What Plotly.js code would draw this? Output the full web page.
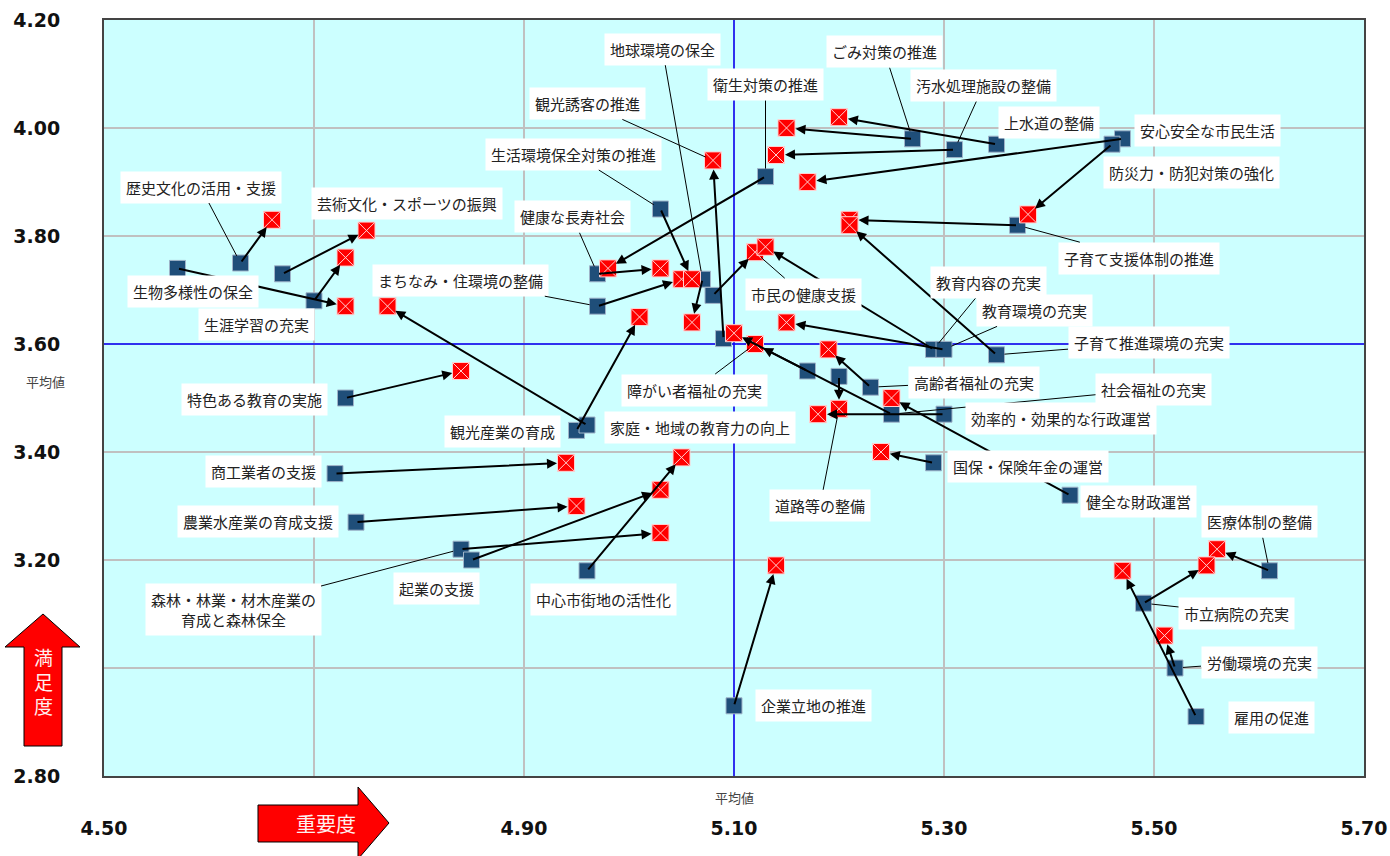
<!DOCTYPE html>
<html><head><meta charset="utf-8">
<script src="https://cdn.plot.ly/plotly-3.0.1.min.js"></script>
<style>html,body{margin:0;padding:0;background:#fff}#chart{width:1390px;height:856px}</style>
</head><body><div id="chart"></div>
<script>
// ---- data ----
const names = [
"歴史文化の活用・支援","芸術文化・スポーツの振興","生物多様性の保全","生涯学習の充実",
"まちなみ・住環境の整備","特色ある教育の実施","商工業者の支援","農業水産業の育成支援",
"森林・林業・材木産業の<br>育成と森林保全","起業の支援","中心市街地の活性化","観光産業の育成",
"家庭・地域の教育力の向上","障がい者福祉の充実","健康な長寿社会","生活環境保全対策の推進",
"観光誘客の推進","地球環境の保全","衛生対策の推進","ごみ対策の推進",
"汚水処理施設の整備","上水道の整備","安心安全な市民生活","防災力・防犯対策の強化",
"子育て支援体制の推進","市民の健康支援","教育内容の充実","教育環境の充実",
"子育て推進環境の充実","高齢者福祉の充実","社会福祉の充実","効率的・効果的な行政運営",
"国保・保険年金の運営","健全な財政運営","道路等の整備","企業立地の推進",
"医療体制の整備","市立病院の充実","労働環境の充実","雇用の促進"];
// previous survey (blue squares): importance, satisfaction
const prevX = [4.63,4.67,4.57,4.70,4.97,4.73,4.72,4.74,4.84,4.85,4.96,4.95,4.96,5.17,4.97,5.03,5.09,5.07,5.13,5.27,5.31,5.35,5.47,5.46,5.37,5.08,5.29,5.30,5.35,5.23,5.25,5.30,5.29,5.42,5.20,5.10,5.61,5.49,5.52,5.54];
const prevY = [3.75,3.73,3.74,3.68,3.67,3.50,3.36,3.27,3.22,3.20,3.18,3.44,3.45,3.55,3.73,3.85,3.61,3.72,3.91,3.98,3.96,3.97,3.98,3.97,3.82,3.69,3.59,3.59,3.58,3.52,3.47,3.47,3.38,3.32,3.54,2.93,3.18,3.12,3.00,2.91];
// current survey (red squares)
const currX = [4.66,4.75,4.73,4.73,5.05,4.84,4.94,4.95,5.03,5.03,5.05,5.01,4.77,5.12,5.03,5.06,5.08,5.06,4.98,5.15,5.14,5.20,5.17,5.38,5.21,5.12,5.13,5.15,5.21,5.19,5.10,5.18,5.24,5.25,5.20,5.14,5.56,5.55,5.51,5.47];
const currY = [3.83,3.81,3.67,3.76,3.72,3.55,3.38,3.30,3.25,3.33,3.39,3.65,3.67,3.60,3.74,3.72,3.94,3.64,3.74,4.00,3.95,4.02,3.90,3.84,3.83,3.77,3.78,3.64,3.82,3.59,3.62,3.47,3.40,3.50,3.48,3.19,3.22,3.19,3.06,3.18];
const avgX = 5.10, avgY = 3.60;
const xRange = [4.5, 5.7], yRange = [2.8, 4.2];
// tick labels (4.70 and 3.00 are hidden behind the axis arrows in the original)
const xTickVals = [4.5,4.7,4.9,5.1,5.3,5.5,5.7];
const xTickText = ['4.50','','4.90','5.10','5.30','5.50','5.70'];
const yTickVals = [2.8,3.0,3.2,3.4,3.6,3.8,4.0,4.2];
const yTickText = ['2.80','','3.20','3.40','3.60','3.80','4.00','4.20'];

// ---- label placement (attach point: 'b' blue / 'r' red / '' no leader; pixel offsets) ----
const labelLayout = [
['b',-40,-76],['',124,-70],['',15,23],['',-58,24],
['b',-137,-26],['',-91,1],['',-72,-2],['',-98,-1],
['b',-228,60],['',-35,28],['',16,29],['',-74,1],
['',113,2],['r',-61,46],['b',-25,-57],['b',-87,-55],
['r',-126,-57],['b',-40,-230],['b',0,-92],['b',-28,-87],
['b',29,-64],['',52,-22],['',85,-8],['',79,28],
['b',121,33],['r',48,42],['b',55,-67],['b',90,-39],
['b',152,-12],['b',103,-5],['b',262,-25],['',117,4],
['',94,4],['',68,6],['r',-19,97],['',79,0],
['b',-10,-49],['b',93,10],['b',84,-6],['',75,1]];

const L = 104, R = 26, T = 20, B = 80, W = 1390, H = 856;
const pw = W - L - R, ph = H - T - B;
const px2x = p => (p - L) / pw;
const py2y = p => (H - B - p) / ph;

const labelFont = {family:'"Noto Sans CJK JP", "Noto Sans", sans-serif', size:15, color:'#222'};

const traces = [
  {x:[avgX,avgX], y:yRange, mode:'lines', line:{color:'#0000ff', width:1.5}, hoverinfo:'skip', showlegend:false},
  {x:xRange, y:[avgY,avgY], mode:'lines', line:{color:'#0000ff', width:1.5}, hoverinfo:'skip', showlegend:false},
  {x:prevX, y:prevY, mode:'markers', type:'scatter', name:'前回', text:names, showlegend:false,
   marker:{symbol:'square', size:16, color:'#1f4e79', line:{color:'#9fb3c8', width:1}}},
  {x:currX, y:currY, mode:'markers', type:'scatter', name:'今回', text:names, showlegend:false,
   marker:{symbol:'square-x', size:17, color:'#ff0000', line:{color:'#ffd0d0', width:1}}}
];

const ann = [];
for (let i = 0; i < names.length; i++) {
  ann.push({x:currX[i], y:currY[i], ax:prevX[i], ay:prevY[i], xref:'x', yref:'y', axref:'x', ayref:'y',
    text:'', showarrow:true, arrowhead:2, arrowsize:1, arrowwidth:2, arrowcolor:'#000', standoff:9, startstandoff:0});
}
for (let i = 0; i < names.length; i++) {
  const [att, dx, dy] = labelLayout[i];
  const ux = att === 'r' ? currX[i] : prevX[i];
  const uy = att === 'r' ? currY[i] : prevY[i];
  if (att) {
    ann.push({x:ux, y:uy, xref:'x', yref:'y', ax:dx, ay:dy, text:names[i], showarrow:true,
      arrowhead:0, arrowwidth:1, arrowcolor:'#000', standoff:8, bgcolor:'#ffffff', borderpad:5, font:labelFont});
  } else {
    ann.push({x:ux, y:uy, xref:'x', yref:'y', xshift:dx, yshift:-dy, text:names[i], showarrow:false,
      xanchor:'center', yanchor:'middle', bgcolor:'#ffffff', borderpad:5, font:labelFont});
  }
}
// average labels
ann.push({x:px2x(45), xref:'paper', y:avgY, yref:'y', yshift:-37, text:'平均値', showarrow:false,
  xanchor:'center', yanchor:'middle', font:{family:'"Noto Sans CJK JP", sans-serif', size:13, color:'#444'}});
ann.push({x:avgX, xref:'x', y:0, yref:'paper', yshift:-21, text:'平均値', showarrow:false,
  xanchor:'center', yanchor:'middle', font:{family:'"Noto Sans CJK JP", sans-serif', size:13, color:'#444'}});
// arrow captions
ann.push({x:px2x(43), xref:'paper', y:py2y(681), yref:'paper', text:'満<br>足<br>度', showarrow:false,
  xanchor:'center', yanchor:'middle', font:{family:'"Noto Sans CJK JP", sans-serif', size:19, color:'#fff0f0'}});
ann.push({x:px2x(326), xref:'paper', y:py2y(823), yref:'paper', text:'重要度', showarrow:false,
  xanchor:'center', yanchor:'middle', font:{family:'"Noto Sans CJK JP", sans-serif', size:20, color:'#fff0f0'}});

function pathPx(pts) {
  return 'M' + pts.map(p => px2x(p[0]).toFixed(5) + ',' + py2y(p[1]).toFixed(5)).join(' L') + ' Z';
}
const shapes = [
  {type:'path', xref:'paper', yref:'paper', layer:'above', fillcolor:'#ff0000', line:{color:'#000', width:1},
   path: pathPx([[24,746],[24,647],[5,647],[43,614],[80,647],[62,647],[62,746]])},
  {type:'path', xref:'paper', yref:'paper', layer:'above', fillcolor:'#ff0000', line:{color:'#000', width:1},
   path: pathPx([[258,805],[358,805],[358,787],[389,823],[358,859],[358,842],[258,842]])}
];

const tickFont = {family:'"DejaVu Sans", Verdana, sans-serif', size:19, color:'#111', weight:'bold'};
const layout = {
  width:W, height:H, margin:{l:L, r:R, t:T, b:B, pad:0},
  paper_bgcolor:'#ffffff', plot_bgcolor:'#ccffff', showlegend:false, hovermode:'closest',
  xaxis:{range:xRange, tickmode:'array', tickvals:xTickVals, ticktext:xTickText, showgrid:true, gridcolor:'#c0c0c0', gridwidth:1.5,
    zeroline:false, showline:true, mirror:true, linecolor:'#444', linewidth:2, ticks:'', tickfont:tickFont,
    ticklabelstandoff:34, fixedrange:true},
  yaxis:{range:yRange, tickmode:'array', tickvals:yTickVals, ticktext:yTickText, showgrid:true, gridcolor:'#c0c0c0', gridwidth:1.5,
    zeroline:false, showline:true, mirror:true, linecolor:'#444', linewidth:2, ticks:'', tickfont:tickFont,
    ticklabelstandoff:38, fixedrange:true},
  annotations:ann, shapes:shapes
};
Plotly.newPlot('chart', traces, layout, {displayModeBar:false, staticPlot:true});
</script></body></html>
